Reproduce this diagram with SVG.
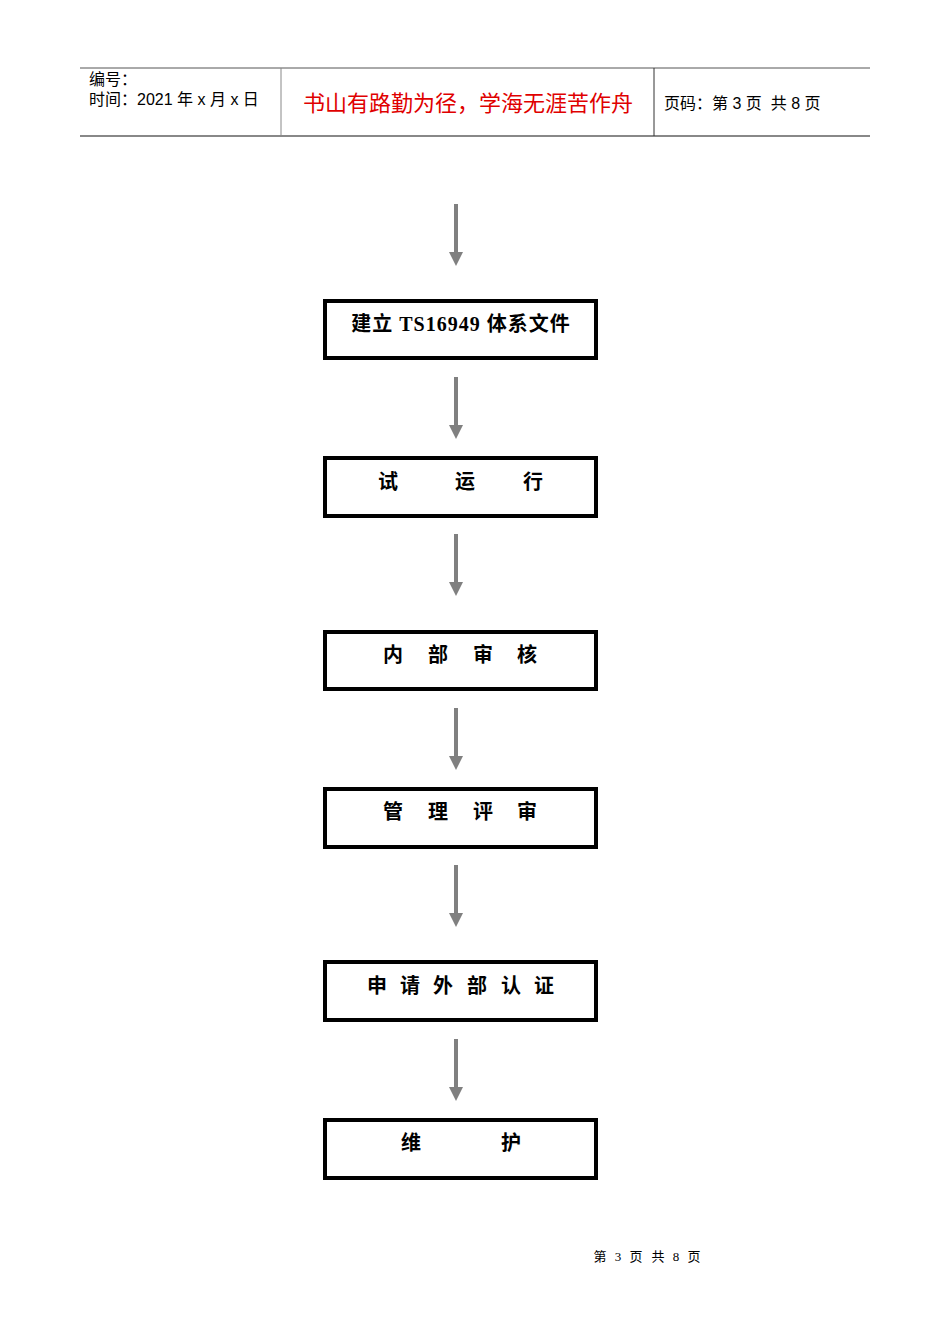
<svg xmlns="http://www.w3.org/2000/svg" width="950" height="1344" viewBox="0 0 950 1344">
<style>
.h{font-family:"Liberation Sans","Noto Sans CJK SC",sans-serif;font-size:16px;fill:#000}
.t{font-family:"Liberation Serif","Noto Sans CJK SC",serif;font-size:20px;font-weight:bold;fill:#000;text-anchor:middle}
.box{fill:#fff;stroke:#000;stroke-width:4}
.ar{stroke:#808080;stroke-width:4}
.hd{fill:#808080}
</style>
<rect width="950" height="1344" fill="#fff"/>
<g id="header">
<line x1="80" y1="68" x2="870" y2="68" stroke="#555" stroke-width="1"/>
<line x1="80" y1="136" x2="870" y2="136" stroke="#888" stroke-width="2"/>
<line x1="281" y1="68" x2="281" y2="136" stroke="#888" stroke-width="1"/>
<line x1="654" y1="68" x2="654" y2="136" stroke="#333" stroke-width="1"/>
<text class="h" x="89" y="85">编号：</text>
<text class="h" x="89" y="105" xml:space="preserve">时间：2021 年 x 月 x 日</text>
<text x="468" y="111" text-anchor="middle" style="font-family:'Noto Sans CJK SC',sans-serif;font-size:22px;fill:#e00000">书山有路勤为径，学海无涯苦作舟</text>
<text class="h" x="664" y="109" xml:space="preserve">页码：第 3 页  共 8 页</text>
</g>
<g id="connectors">
<line class="ar" x1="456" y1="204" x2="456" y2="254"/><polygon class="hd" points="449,252 463,252 456,266"/>
<line class="ar" x1="456" y1="377" x2="456" y2="427"/><polygon class="hd" points="449,425 463,425 456,439"/>
<line class="ar" x1="456" y1="534" x2="456" y2="584"/><polygon class="hd" points="449,582 463,582 456,596"/>
<line class="ar" x1="456" y1="708" x2="456" y2="758"/><polygon class="hd" points="449,756 463,756 456,770"/>
<line class="ar" x1="456" y1="865" x2="456" y2="915"/><polygon class="hd" points="449,913 463,913 456,927"/>
<line class="ar" x1="456" y1="1039" x2="456" y2="1089"/><polygon class="hd" points="449,1087 463,1087 456,1101"/>
</g>
<g id="n1"><rect class="box" x="325" y="301" width="271" height="57"/><text class="t" x="461" y="331" letter-spacing="1" xml:space="preserve">建立 TS16949 体系文件</text></g>
<g id="n2"><rect class="box" x="325" y="458" width="271" height="58"/><text class="t" x="388 465 533" y="489">试运行</text></g>
<g id="n3"><rect class="box" x="325" y="632" width="271" height="57"/><text class="t" x="393 438 483 527" y="662">内部审核</text></g>
<g id="n4"><rect class="box" x="325" y="789" width="271" height="58"/><text class="t" x="393 438 483 527" y="819">管理评审</text></g>
<g id="n5"><rect class="box" x="325" y="962" width="271" height="58"/><text class="t" x="377 410 443 477 511 544" y="993">申请外部认证</text></g>
<g id="n6"><rect class="box" x="325" y="1120" width="271" height="58"/><text class="t" x="411 511" y="1150">维护</text></g>
<text x="600 618 636 658 676 694" y="1261" text-anchor="middle" style="font-family:'Liberation Serif','Noto Sans CJK SC',serif;font-size:13px;fill:#000">第3页共8页</text>
</svg>
